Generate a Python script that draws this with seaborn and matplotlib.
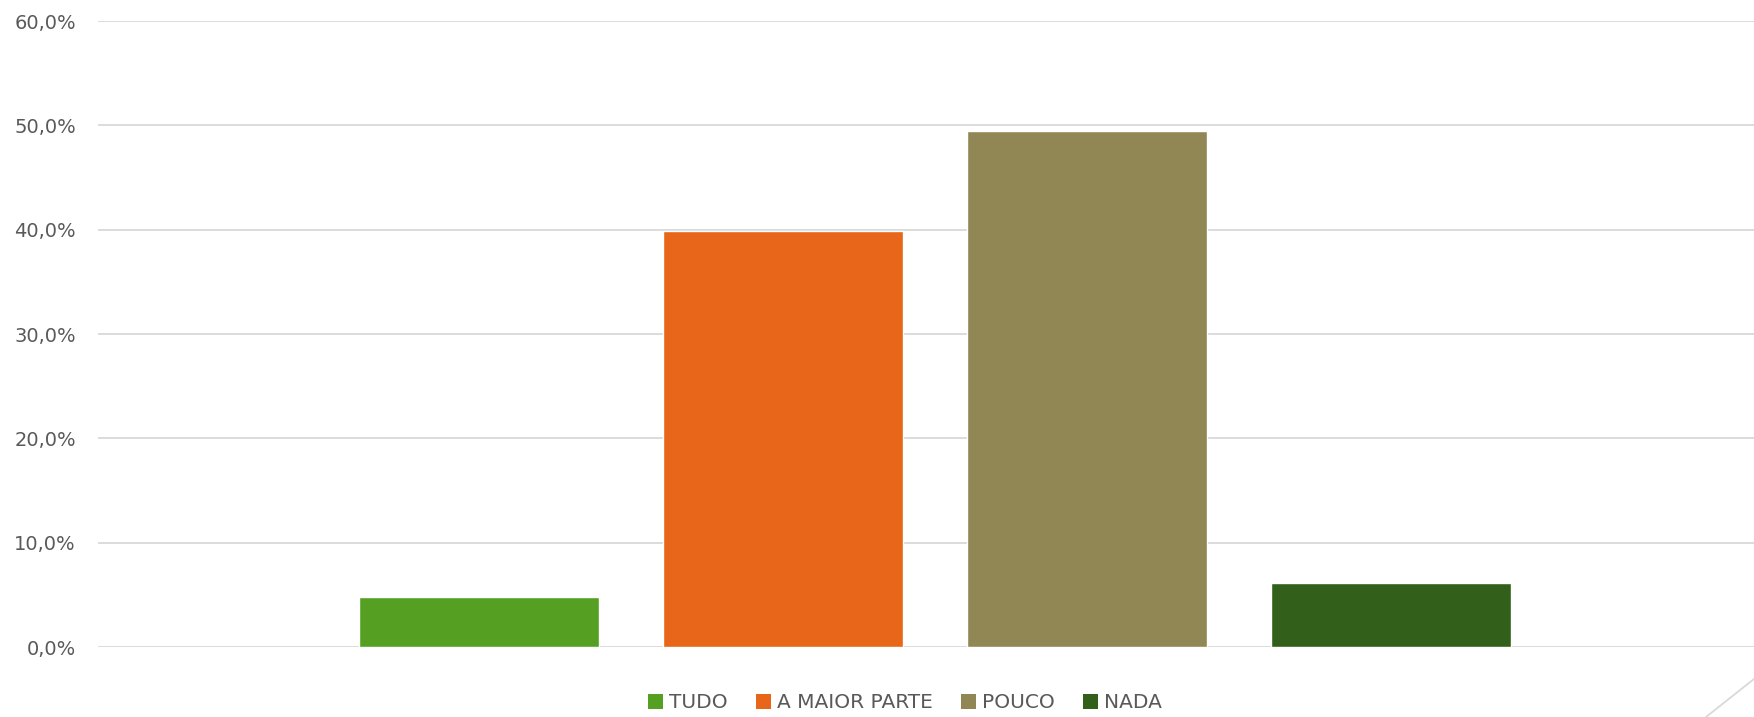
import pandas as pd
import numpy as np
import matplotlib.pyplot as plt
import seaborn as sns
from matplotlib.patches import Patch
from matplotlib.lines import Line2D
from matplotlib.ticker import FuncFormatter

# dados (percentual de respostas)
categorias = ['TUDO', 'A MAIOR PARTE', 'POUCO', 'NADA']
valores = [4.8, 39.9, 49.5, 6.1]
cores = ['#55A022', '#E86619', '#918755', '#32601A']

df = pd.DataFrame({'resposta': categorias, 'pct': [v / 100 for v in valores]})

sns.set_style('white')
plt.rcParams['font.family'] = ['DejaVu Sans']

fig = plt.figure(figsize=(17.54, 7.17), dpi=100)
ax = fig.add_axes([0.0559, 0.0976, 0.9441, 0.8731])

sns.barplot(data=df, x='resposta', y='pct', hue='resposta', palette=cores,
            width=0.79, legend=False, ax=ax, saturation=1, zorder=3)

ax.set_ylim(0, 0.6)
ax.set_xlim(-1.253, 4.194)
ax.set_yticks(np.arange(0, 0.61, 0.1))
ax.yaxis.set_major_formatter(FuncFormatter(lambda v, p: f'{v * 100:.1f}%'.replace('.', ',')))
ax.tick_params(axis='y', length=0, pad=16, labelsize=14, labelcolor='#595959')
ax.set_xticks([])
ax.set_xlabel('')
ax.set_ylabel('')
ax.grid(axis='y', color='#D9D9D9', linewidth=1.3, zorder=0)
for s in ax.spines.values():
    s.set_visible(False)

# legenda com quadrados
handles = [Patch(facecolor=c, edgecolor='none') for c in cores]
fig.legend(handles, categorias, loc='center', bbox_to_anchor=(905 / 1754, 1 - 703 / 717),
           ncol=4, frameon=False, fontsize=14.5, labelcolor='#595959',
           handlelength=0.75, handleheight=0.75, handletextpad=0.3, columnspacing=1.4)

# canto da borda do gráfico
fig.add_artist(Line2D([1706 / 1754, 1.0], [0.0, 1 - 679 / 717], color='#D9D9D9', linewidth=1.3))

plt.savefig('out.png', dpi=100)
